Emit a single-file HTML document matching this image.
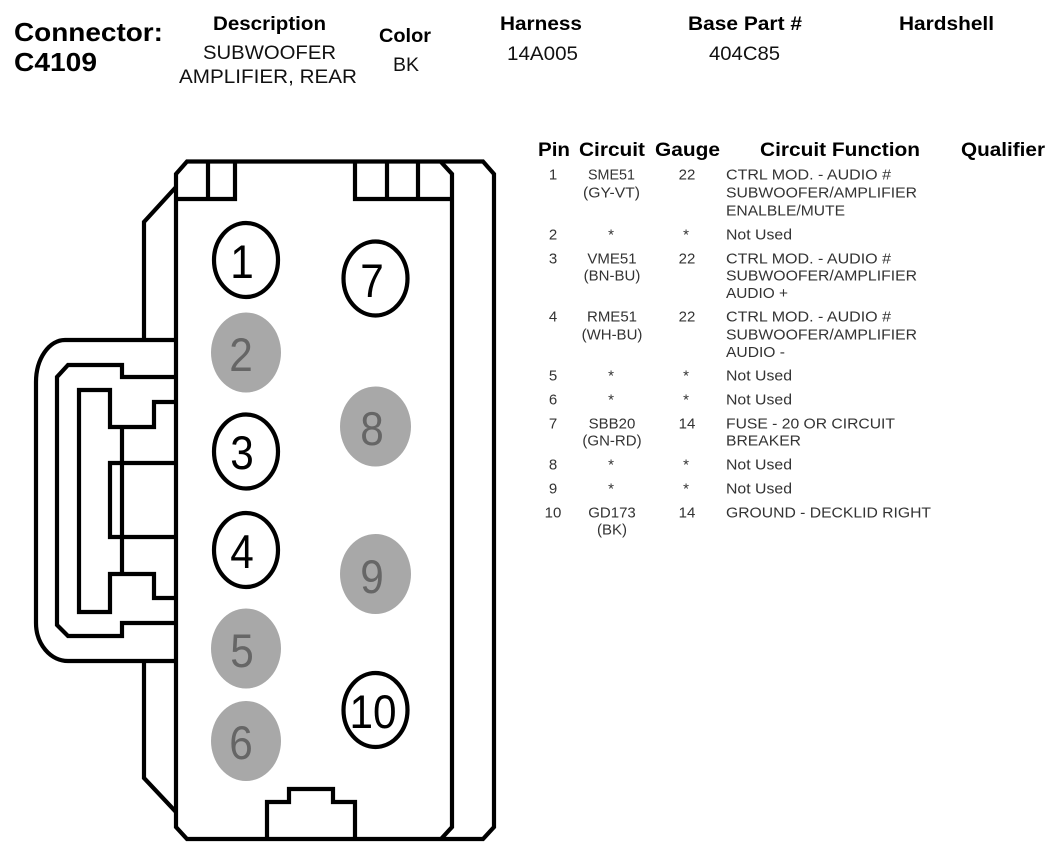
<!DOCTYPE html>
<html><head><meta charset="utf-8"><style>
html,body{margin:0;padding:0;background:#fff;width:1064px;height:854px;overflow:hidden}
svg{display:block}
text{font-family:"Liberation Sans",Arial,sans-serif;fill:#000}
.b{font-weight:bold}
.h{font-size:19px;font-weight:bold}
.t{font-size:19px;fill:#111}
.r{font-size:15px;fill:#333}
.m{text-anchor:middle}
.n{font-size:47px;text-anchor:middle}
</style></head><body>
<svg width="1064" height="854" viewBox="0 0 1064 854" xmlns="http://www.w3.org/2000/svg">
<g fill="none" stroke="#000" stroke-width="4.2">
<path d="M176 174L187 161.5H483L494 174V827L483 839H187L176 827Z"/>
<path d="M441 162L452 174V827L441 839"/>
<path d="M176 199H235V162M208 162V199M355 162V199H452M387 162V199M418 162V199"/>
<path d="M176 187L144 222V340M144 661V778L176 812"/>
<path d="M176 340H65A29 42 0 0 0 36 382V623A32 38 0 0 0 68 661H176"/>
<path d="M176 377H122V365H68L57 377V625L68 636H122V623H176"/>
<path d="M176 402H154V427H110V390H79V612H110V574H154V598H176"/>
<path d="M122 427V574"/>
<path d="M176 463H110V537H176"/>
<path d="M267 839V802H289V789H333V802H355V839"/>
</g>
<g fill="#fff" stroke="#000" stroke-width="4.2">
<ellipse cx="246" cy="260" rx="32" ry="37"/>
<ellipse cx="375.5" cy="278.5" rx="32" ry="37"/>
<ellipse cx="246" cy="451.5" rx="32" ry="37"/>
<ellipse cx="246" cy="550" rx="32" ry="37"/>
<ellipse cx="375.5" cy="710" rx="32" ry="37"/>
</g>
<g fill="#a8a8a8">
<ellipse cx="246" cy="352.5" rx="35" ry="40"/>
<ellipse cx="375.5" cy="426.5" rx="35.5" ry="40"/>
<ellipse cx="375.5" cy="574" rx="35.5" ry="40"/>
<ellipse cx="246" cy="648.5" rx="35" ry="40"/>
<ellipse cx="246" cy="741" rx="35" ry="40"/>
</g>
<text class="n" transform="translate(242,278) scale(.9,1)">1</text>
<text class="n" transform="translate(372,297) scale(.9,1)">7</text>
<text class="n" transform="translate(241,371) scale(.9,1)" style="fill:#666">2</text>
<text class="n" transform="translate(372,445) scale(.9,1)" style="fill:#666">8</text>
<text class="n" transform="translate(242,469) scale(.9,1)">3</text>
<text class="n" transform="translate(242,568) scale(.9,1)">4</text>
<text class="n" transform="translate(372,593) scale(.9,1)" style="fill:#666">9</text>
<text class="n" transform="translate(242,667) scale(.9,1)" style="fill:#666">5</text>
<text class="n" transform="translate(241,759) scale(.9,1)" style="fill:#666">6</text>
<text class="n" transform="translate(373,728) scale(.9,1)">10</text>
<text class="b" x="14" y="41" font-size="26" textLength="149" lengthAdjust="spacingAndGlyphs">Connector:</text>
<text class="b" x="14" y="71" font-size="26" textLength="83" lengthAdjust="spacingAndGlyphs">C4109</text>
<text class="h" x="213" y="30" textLength="113" lengthAdjust="spacingAndGlyphs">Description</text>
<text class="t" x="203" y="59" textLength="133" lengthAdjust="spacingAndGlyphs">SUBWOOFER</text>
<text class="t" x="179" y="83" textLength="178" lengthAdjust="spacingAndGlyphs">AMPLIFIER, REAR</text>
<text class="h" x="379" y="42" textLength="52" lengthAdjust="spacingAndGlyphs">Color</text>
<text class="t" x="393" y="71" textLength="26" lengthAdjust="spacingAndGlyphs">BK</text>
<text class="h" x="500" y="30" textLength="82" lengthAdjust="spacingAndGlyphs">Harness</text>
<text class="t" x="507" y="60" textLength="71" lengthAdjust="spacingAndGlyphs">14A005</text>
<text class="h" x="688" y="30" textLength="114" lengthAdjust="spacingAndGlyphs">Base Part #</text>
<text class="t" x="709" y="60" textLength="71" lengthAdjust="spacingAndGlyphs">404C85</text>
<text class="h" x="899" y="30" textLength="95" lengthAdjust="spacingAndGlyphs">Hardshell</text>
<text class="h" x="538" y="156" textLength="32" lengthAdjust="spacingAndGlyphs">Pin</text>
<text class="h" x="579" y="156" textLength="66" lengthAdjust="spacingAndGlyphs">Circuit</text>
<text class="h" x="655" y="156" textLength="65" lengthAdjust="spacingAndGlyphs">Gauge</text>
<text class="h" x="760" y="156" textLength="160" lengthAdjust="spacingAndGlyphs">Circuit Function</text>
<text class="h" x="961" y="156" textLength="84" lengthAdjust="spacingAndGlyphs">Qualifier</text>
<g transform="translate(0,-.5)">
<text class="r m" x="553" y="180">1</text><text class="r m" x="611.5" y="180" textLength="47" lengthAdjust="spacingAndGlyphs">SME51</text><text class="r m" x="611.5" y="198" textLength="57" lengthAdjust="spacingAndGlyphs">(GY-VT)</text><text class="r m" x="687" y="180">22</text>
<text class="r m" x="553" y="240">2</text><text class="r m" x="611" y="240">*</text><text class="r m" x="686" y="240">*</text>
<text class="r m" x="553" y="264">3</text><text class="r m" x="612" y="264">VME51</text><text class="r m" x="612" y="281">(BN-BU)</text><text class="r m" x="687" y="264">22</text>
<text class="r m" x="553" y="322">4</text><text class="r m" x="612" y="322">RME51</text><text class="r m" x="612" y="340">(WH-BU)</text><text class="r m" x="687" y="322">22</text>
<text class="r m" x="553" y="381">5</text><text class="r m" x="611" y="381">*</text><text class="r m" x="686" y="381">*</text>
<text class="r m" x="553" y="405">6</text><text class="r m" x="611" y="405">*</text><text class="r m" x="686" y="405">*</text>
<text class="r m" x="553" y="429">7</text><text class="r m" x="612" y="429">SBB20</text><text class="r m" x="612" y="446">(GN-RD)</text><text class="r m" x="687" y="429">14</text>
<text class="r m" x="553" y="470">8</text><text class="r m" x="611" y="470">*</text><text class="r m" x="686" y="470">*</text>
<text class="r m" x="553" y="494">9</text><text class="r m" x="611" y="494">*</text><text class="r m" x="686" y="494">*</text>
<text class="r m" x="553" y="518">10</text><text class="r m" x="612" y="518">GD173</text><text class="r m" x="612" y="535">(BK)</text><text class="r m" x="687" y="518">14</text>
<text class="r" x="726" y="180" textLength="165" lengthAdjust="spacingAndGlyphs">CTRL MOD. - AUDIO #</text>
<text class="r" x="726" y="198" textLength="191" lengthAdjust="spacingAndGlyphs">SUBWOOFER/AMPLIFIER</text>
<text class="r" x="726" y="216" textLength="119" lengthAdjust="spacingAndGlyphs">ENALBLE/MUTE</text>
<text class="r" x="726" y="240" textLength="66" lengthAdjust="spacingAndGlyphs">Not Used</text>
<text class="r" x="726" y="264" textLength="165" lengthAdjust="spacingAndGlyphs">CTRL MOD. - AUDIO #</text>
<text class="r" x="726" y="281" textLength="191" lengthAdjust="spacingAndGlyphs">SUBWOOFER/AMPLIFIER</text>
<text class="r" x="726" y="298.5" textLength="62" lengthAdjust="spacingAndGlyphs">AUDIO +</text>
<text class="r" x="726" y="322" textLength="165" lengthAdjust="spacingAndGlyphs">CTRL MOD. - AUDIO #</text>
<text class="r" x="726" y="340" textLength="191" lengthAdjust="spacingAndGlyphs">SUBWOOFER/AMPLIFIER</text>
<text class="r" x="726" y="357.5" textLength="59" lengthAdjust="spacingAndGlyphs">AUDIO -</text>
<text class="r" x="726" y="381" textLength="66" lengthAdjust="spacingAndGlyphs">Not Used</text>
<text class="r" x="726" y="405" textLength="66" lengthAdjust="spacingAndGlyphs">Not Used</text>
<text class="r" x="726" y="429" textLength="169" lengthAdjust="spacingAndGlyphs">FUSE - 20 OR CIRCUIT</text>
<text class="r" x="726" y="446" textLength="75" lengthAdjust="spacingAndGlyphs">BREAKER</text>
<text class="r" x="726" y="470" textLength="66" lengthAdjust="spacingAndGlyphs">Not Used</text>
<text class="r" x="726" y="494" textLength="66" lengthAdjust="spacingAndGlyphs">Not Used</text>
<text class="r" x="726" y="518" textLength="205" lengthAdjust="spacingAndGlyphs">GROUND - DECKLID RIGHT</text>
</g>
</svg>
</body></html>
